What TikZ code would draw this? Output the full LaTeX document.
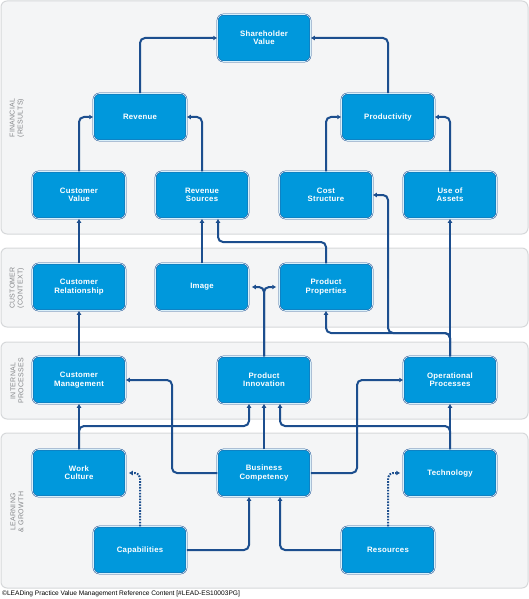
\documentclass[tikz,border=0pt]{standalone}
\usepackage{fontspec}
\setmainfont{Liberation Sans}
\newfontfamily\boxfont[LetterSpace=3]{Liberation Sans}
\newfontfamily\bandfont[LetterSpace=4]{Liberation Sans}
\usetikzlibrary{arrows.meta}
\definecolor{boxblue}{HTML}{0098DC}
\definecolor{boxedge}{HTML}{2A5C9A}
\definecolor{connblue}{HTML}{1C4E8E}
\definecolor{bandfill}{HTML}{F4F5F6}
\definecolor{bandedge}{HTML}{D6D8DA}
\definecolor{labelgray}{HTML}{85878A}
\tikzset{
  band/.style={draw=bandedge, fill=bandfill, line width=1pt, rounded corners=6pt},
  bandlabel/.style={text=labelgray, font=\bandfont\fontsize{7}{8}\selectfont, align=center, rotate=90, inner sep=0pt},
  box/.style={draw=boxedge, fill=boxblue, line width=0.5pt, double=white!85!boxblue, double distance=0.6pt,
    rounded corners=6pt, minimum width=93pt, minimum height=47pt, inner sep=0pt,
    text=white, font=\boxfont\bfseries\fontsize{7.8}{8.2}\selectfont, align=center},
  conn/.style={draw=connblue, line width=2pt, rounded corners=5pt, -{Latex[length=4pt,width=5pt]}},
  dotconn/.style={draw=connblue, line width=2pt, rounded corners=5pt, dash pattern=on 1.6pt off 1.3pt,
    -{Latex[length=4pt,width=5pt]}, shorten >=3pt}
}
\begin{document}
\begin{tikzpicture}[x=1pt,y=-1pt]
\useasboundingbox (0,0) rectangle (529,599);
% bands
\draw[band] (1,1) rectangle (528,234);
\draw[band] (1,248) rectangle (528,327);
\draw[band] (1,342) rectangle (528,419);
\draw[band] (1,433) rectangle (528,588);
\node[bandlabel] (lf) at (17,118) {FINANCIAL\\(RESULTS)};
\node[bandlabel] (lc) at (17,288) {CUSTOMER\\(CONTEXT)};
\node[bandlabel] (li) at (17,381) {INTERNAL\\PROCESSES};
\node[bandlabel] (ll) at (17,512) {LEARNING\\\& GROWTH};
% boxes
\node[box] (sv) at (264,38) {Shareholder\\Value};
\node[box] (rev) at (140,117) {Revenue};
\node[box] (prod) at (388,117) {Productivity};
\node[box] (cv) at (79,195) {Customer\\Value};
\node[box] (rs) at (202,195) {Revenue\\Sources};
\node[box] (cs) at (326,195) {Cost\\Structure};
\node[box] (ua) at (450,195) {Use of\\Assets};
\node[box] (cr) at (79,287) {Customer\\Relationship};
\node[box] (img) at (202,287) {Image};
\node[box] (pp) at (326,287) {Product\\Properties};
\node[box] (cm) at (79,380) {Customer\\Management};
\node[box] (pi) at (264,380) {Product\\Innovation};
\node[box] (op) at (450,380) {Operational\\Processes};
\node[box] (wc) at (79,473) {Work\\Culture};
\node[box] (bc) at (264,473) {Business\\Competency};
\node[box] (tech) at (450,473) {Technology};
\node[box] (cap) at (140,550) {Capabilities};
\node[box] (res) at (388,550) {Resources};
% junction coordinates
\coordinate (j1) at (218,242);
\coordinate (j2) at (326,333);
\coordinate (j3) at (388,333);
\coordinate (j4) at (249,426);
\coordinate (j5) at (280,426);
\coordinate (j6) at (172,420);
\coordinate (j7) at (357,420);
\coordinate (j8) at (249,550);
\coordinate (j9) at (280,550);
% connectors
\draw[conn] (rev.north) |- (sv.west);
\draw[conn] (prod.north) |- (sv.east);
\draw[conn] (cv.north) |- (rev.west);
\draw[conn] (rs.north) |- (rev.east);
\draw[conn] (cs.north) |- (prod.west);
\draw[conn] (ua.north) |- (prod.east);
\draw[conn] (cr.north) -- (cv.south);
\draw[conn] (img.north) -- (rs.south);
\draw[conn] (pp.north) |- (j1) -- (j1 |- rs.south);
\draw[conn] (cm.north) -- (cr.south);
\draw[conn, shorten >=3pt] (pi.north) |- (img.east);
\draw[conn, shorten >=3pt] (pi.north) |- (pp.west);
\draw[conn] (op.north) -- (ua.south);
\draw[conn] (op.north) |- (j2) -- (pp.south);
\draw[conn] (op.north) |- (j3) |- (cs.east);
\draw[conn] (bc.north) -- (pi.south);
\draw[conn] (wc.north) -- (cm.south);
\draw[conn] (wc.north) |- (j4) -- (j4 |- pi.south);
\draw[conn] (tech.north) |- (j5) -- (j5 |- pi.south);
\draw[conn] (tech.north) -- (op.south);
\draw[conn] (bc.west) -| (j6) |- (cm.east);
\draw[conn] (bc.east) -| (j7) |- (op.west);
\draw[conn] (cap.east) -- (j8) -- (j8 |- bc.south);
\draw[conn] (res.west) -- (j9) -- (j9 |- bc.south);
\draw[dotconn] (cap.north) |- (wc.east);
\draw[dotconn] (res.north) |- (tech.west);
% footer
\node[anchor=west, inner sep=0pt, font=\fontsize{6.6}{7}\selectfont] (foot) at (2,594) {©LEADing Practice Value Management Reference Content [\#LEAD-ES10003PG]};
\end{tikzpicture}
\end{document}
